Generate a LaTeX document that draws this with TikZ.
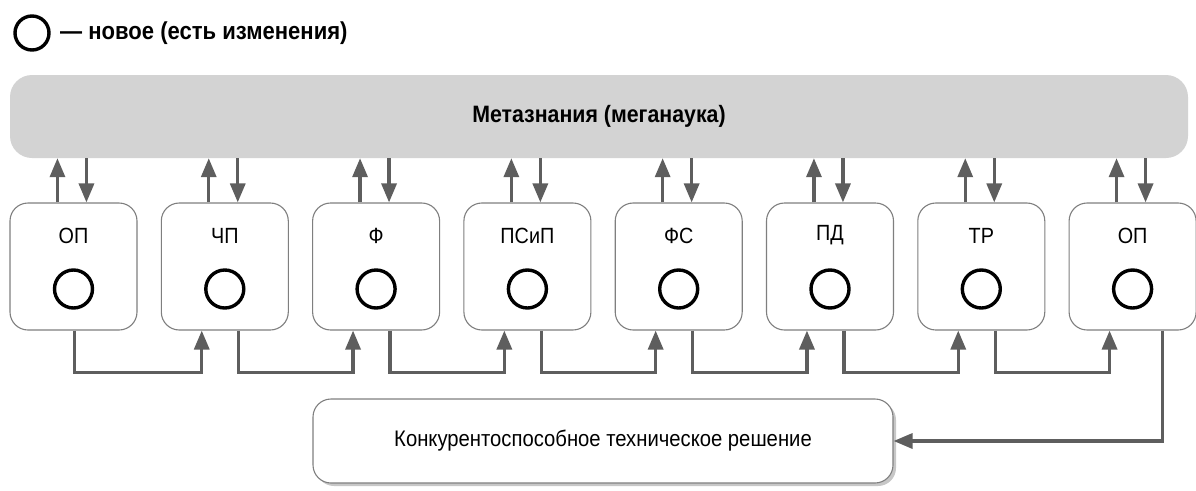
\documentclass[tikz,border=0pt]{standalone}
\usepackage{fontspec}
\setmainfont{Liberation Sans}[FakeStretch=0.9]
\usetikzlibrary{calc,arrows.meta,shadows}
\definecolor{arrgray}{HTML}{5E5E5E}
\definecolor{boxline}{HTML}{7F7F7F}
\definecolor{barfill}{HTML}{D3D3D3}
\begin{document}
\begin{tikzpicture}[x=1pt,y=-1pt,
  arr/.style={draw=arrgray,line width=3.3pt,-{Triangle[length=19pt,width=15pt]}},
  stage/.style={draw=boxline,line width=1.1pt,rounded corners=18pt,fill=white,
    minimum width=127pt,minimum height=127pt,inner sep=0pt},
  lbl/.style={font=\fontsize{22}{25}\selectfont},
  ring/.style={circle,draw=black,line width=3.4pt,inner sep=0pt},
  resbox/.style={draw=boxline,line width=1.1pt,rounded corners=18pt,fill=white,
    minimum width=580pt,minimum height=84pt,inner sep=0pt,
    drop shadow={shadow xshift=3pt,shadow yshift=-3pt,fill=black!22,opacity=1},
    font=\fontsize{22.5}{26}\selectfont}]
\useasboundingbox (0,0) rectangle (1196,490);
% legend
\node[ring,minimum size=34pt] (lc) at (32,33) {};
\node[anchor=west,inner sep=0pt,font=\bfseries\fontsize{24.5}{28}\selectfont] (lt) at (60,33) {— новое (есть изменения)};
% meta bar
\node[fill=barfill,rounded corners=22pt,minimum width=1178pt,minimum height=83pt,inner sep=0pt,
  font=\bfseries\fontsize{23.7}{27}\selectfont] (meta) at (599,116.5) {Метазнания (меганаука)};
% stages
\foreach \i/\t in {1/ОП,2/ЧП,3/Ф,4/ПСиП,5/ФС,6/ПД,7/ТР,8/ОП}{
  \node[stage] (b\i) at ({73.5+151.3*(\i-1)},266.5) {};
  \node[lbl] (t\i) at ($(b\i.center)+(0,-31)$) {\t};
  \node[ring,minimum size=38pt] (c\i) at ($(b\i.center)+(0,22.5)$) {};
  \coordinate (u\i) at ($(b\i.north west)+(48,0)$);
  \coordinate (d\i) at ($(b\i.north west)+(77,0)$);
  \draw[arr] (u\i) -- (u\i |- meta.south);
  \draw[arr] (d\i |- meta.south) -- (d\i);
}
% result box
\node[resbox] (res) at (603,441) {Конкурентоспособное техническое решение};
% bottom connectors
\coordinate (o1) at ($(b1.south west)+(65,0)$);
\foreach \i in {2,...,8}{
  \coordinate (o\i) at ($(b\i.south west)+(78,0)$);
  \coordinate (n\i) at ($(b\i.south west)+(41,0)$);
}
\coordinate (o8) at ($(b8.south west)+(94,0)$);
\foreach \i/\j in {1/2,2/3,3/4,4/5,5/6,6/7,7/8}{
  \draw[arr] (o\i) -- ++(0,42) -| (n\j);
}
\draw[arr] (o8) |- (res.east);
\end{tikzpicture}
\end{document}
